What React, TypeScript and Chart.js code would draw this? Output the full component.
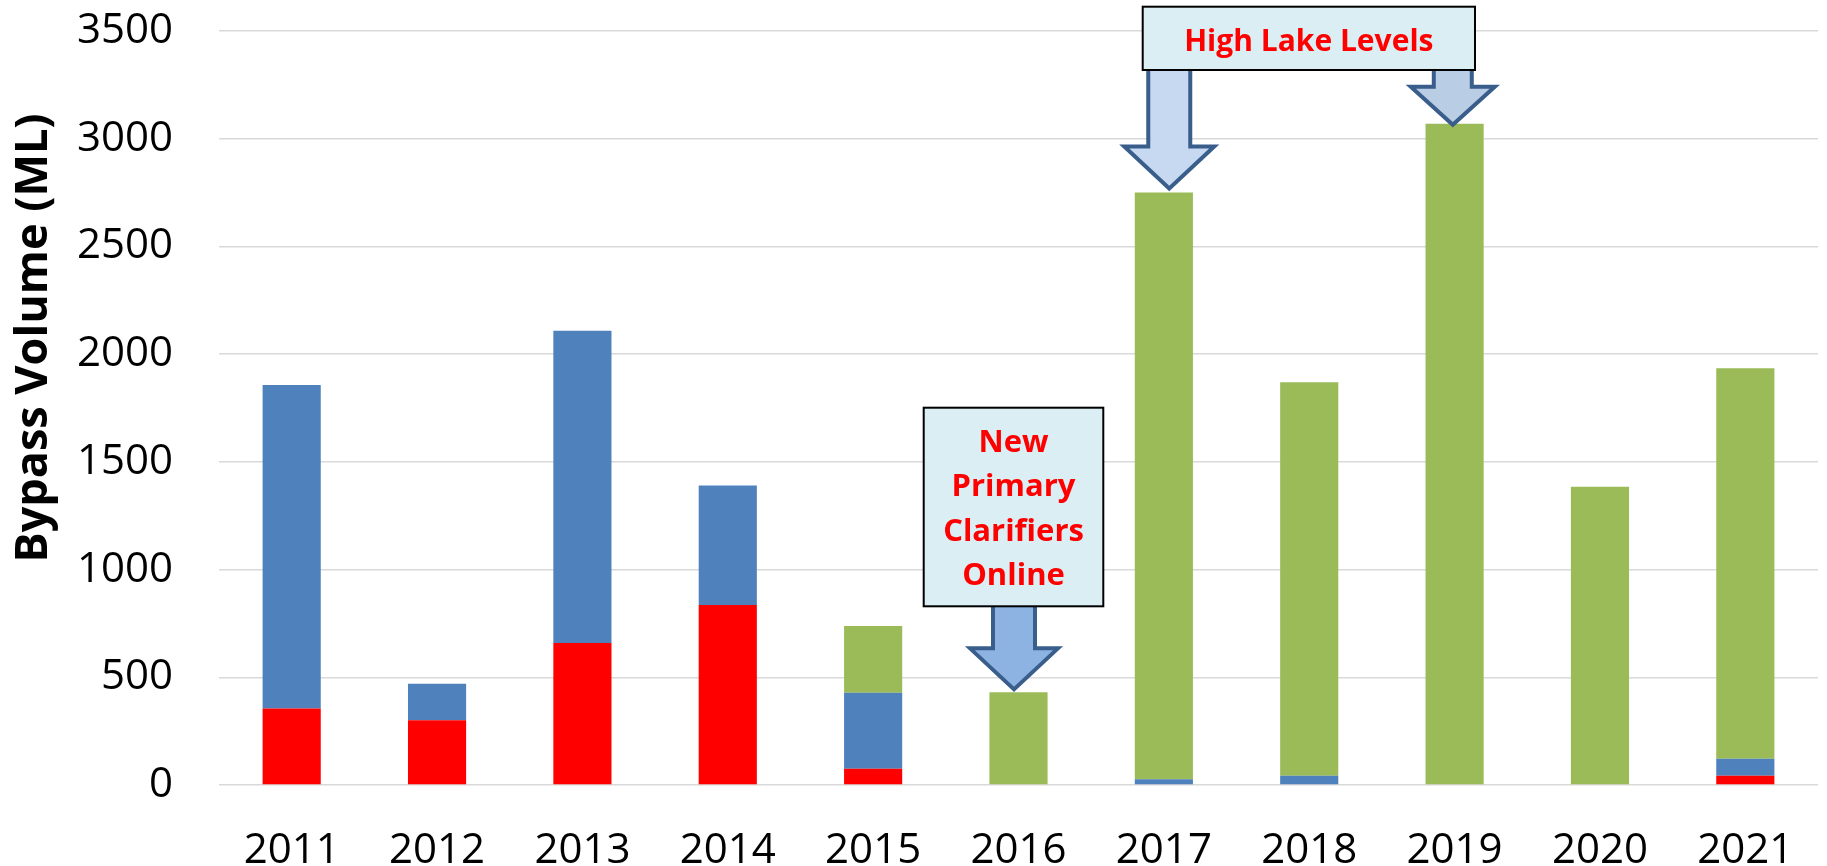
import { useEffect, useRef } from "react";
import { Chart, registerables } from "chart.js";

Chart.register(...registerables);

const years = ["2011", "2012", "2013", "2014", "2015", "2016", "2017", "2018", "2019", "2020", "2021"];
const redValues = [355, 300, 659, 835, 75, 0, 0, 0, 0, 0, 43];
const blueValues = [1502, 170, 1450, 555, 353, 0, 27, 43, 0, 0, 79];
const greenValues = [0, 0, 0, 0, 310, 430, 2723, 1827, 3069, 1384, 1813];
const yMin = 0;
const yMax = 3500;
const yStep = 500;
const yTitle = "Bypass Volume (ML)";
const clarifierLines = ["New", "Primary", "Clarifiers", "Online"];
const lakeLabel = "High Lake Levels";

const FONT = "'Open Sans', 'Noto Sans', sans-serif";

function drawArrow(
  ctx: CanvasRenderingContext2D,
  cx: number,
  topY: number,
  tipY: number,
  shaftHalf: number,
  headHalf: number,
  headLen: number,
  fill: string
) {
  const baseY = tipY - headLen;
  ctx.save();
  ctx.beginPath();
  ctx.moveTo(cx - shaftHalf, topY);
  ctx.lineTo(cx + shaftHalf, topY);
  ctx.lineTo(cx + shaftHalf, baseY);
  ctx.lineTo(cx + headHalf, baseY);
  ctx.lineTo(cx, tipY);
  ctx.lineTo(cx - headHalf, baseY);
  ctx.lineTo(cx - shaftHalf, baseY);
  ctx.closePath();
  ctx.fillStyle = fill;
  ctx.fill();
  ctx.lineWidth = 4;
  ctx.lineJoin = "miter";
  ctx.strokeStyle = "#3A5E8C";
  ctx.stroke();
  ctx.restore();
}

function drawBox(ctx: CanvasRenderingContext2D, x1: number, y1: number, x2: number, y2: number) {
  ctx.save();
  ctx.fillStyle = "#DBEEF4";
  ctx.fillRect(x1, y1, x2 - x1, y2 - y1);
  ctx.lineWidth = 2;
  ctx.strokeStyle = "#000000";
  ctx.strokeRect(x1, y1, x2 - x1, y2 - y1);
  ctx.restore();
}

const annotationPlugin = {
  id: "annotations",
  afterDatasetsDraw(chart: any) {
    const ctx: CanvasRenderingContext2D = chart.ctx;
    const xs = chart.scales.x;
    const ys = chart.scales.y;
    const total = (i: number) => redValues[i] + blueValues[i] + greenValues[i];
    const i2016 = years.indexOf("2016");
    const i2017 = years.indexOf("2017");
    const i2019 = years.indexOf("2019");

    // Arrows
    drawArrow(ctx, xs.getPixelForValue(i2016) - 4.5, 600, ys.getPixelForValue(total(i2016)) - 3, 21, 44, 41, "#8DB3E2");
    drawArrow(ctx, xs.getPixelForValue(i2017) + 5.4, 60, ys.getPixelForValue(total(i2017)) - 4, 21, 45, 42, "#C6D9F1");
    drawArrow(ctx, xs.getPixelForValue(i2019) - 1.8, 60, ys.getPixelForValue(total(i2019)) + 1, 19, 42, 38, "#B9CDE5");

    // Boxes
    drawBox(ctx, 923.7, 407.7, 1103.3, 606.3);
    drawBox(ctx, 1142.7, 6.7, 1475, 70);

    ctx.save();
    ctx.fillStyle = "#FF0000";
    ctx.textAlign = "center";
    ctx.textBaseline = "alphabetic";
    ctx.font = `bold 31px ${FONT}`;
    clarifierLines.forEach((line, k) => {
      ctx.fillText(line, 1013.5, 451.7 + k * 44.5);
    });
    ctx.font = `bold 30px ${FONT}`;
    ctx.fillText(lakeLabel, 1308.8, 50.7);
    ctx.restore();

    // Y axis title
    ctx.save();
    ctx.translate(47, 338);
    ctx.rotate(-Math.PI / 2);
    ctx.fillStyle = "#000000";
    ctx.textAlign = "center";
    ctx.textBaseline = "alphabetic";
    ctx.font = `bold 45px ${FONT}`;
    ctx.fillText(yTitle, 0, 0);
    ctx.restore();
  },
};

export default function App() {
  const canvasRef = useRef<HTMLCanvasElement | null>(null);

  useEffect(() => {
    if (!canvasRef.current) return;
    const chart = new Chart(canvasRef.current, {
      type: "bar",
      data: {
        labels: years,
        datasets: [
          { label: "Red", data: redValues, backgroundColor: "#FF0000", borderWidth: 0 },
          { label: "Blue", data: blueValues, backgroundColor: "#4F81BD", borderWidth: 0 },
          { label: "Green", data: greenValues, backgroundColor: "#9BBB59", borderWidth: 0 },
        ],
      },
      options: {
        responsive: false,
        animation: false,
        devicePixelRatio: 1,
        layout: { padding: { top: 31, right: 9, left: 0, bottom: 0 } },
        plugins: {
          legend: { display: false },
          tooltip: { enabled: false },
          title: { display: false },
        },
        datasets: {
          bar: { categoryPercentage: 1, barPercentage: 0.4 },
        },
        scales: {
          x: {
            stacked: true,
            grid: { display: false, drawTicks: false },
            border: { display: false },
            ticks: { font: { family: FONT, size: 42 }, color: "#000000", padding: 41, maxRotation: 0 },
            afterFit: (scale: any) => {
              scale.height = 81;
              scale.paddingLeft = 0;
              scale.paddingRight = 0;
            },
          },
          y: {
            stacked: true,
            min: yMin,
            max: yMax,
            grid: { color: "#D9D9D9", lineWidth: 1.5, drawTicks: false },
            border: { display: false },
            ticks: {
              stepSize: yStep,
              font: { family: FONT, size: 42 },
              color: "#000000",
              padding: 46,
              callback: (v: any) => String(v),
            },
            afterFit: (scale: any) => {
              scale.width = 219;
              scale.paddingTop = 0;
              scale.paddingBottom = 0;
            },
          },
        },
      } as any,
      plugins: [annotationPlugin],
    });
    return () => chart.destroy();
  }, []);

  return (
    <div style={{ position: "fixed", left: 0, top: 0, width: 1827, height: 866, background: "#ffffff" }}>
      <canvas ref={canvasRef} width={1827} height={866} style={{ display: "block" }} />
    </div>
  );
}
